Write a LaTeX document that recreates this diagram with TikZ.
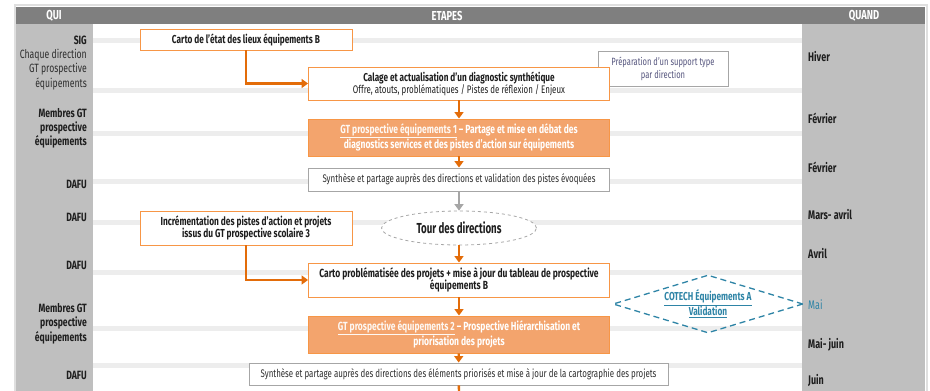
\documentclass[tikz,border=0pt]{standalone}
\usepackage{fontspec}
\setmainfont[FakeStretch=0.72]{Fira Sans}
\newfontfamily\narrowf[FakeStretch=0.67]{Fira Sans}
\usetikzlibrary{shapes.geometric,arrows.meta}
\definecolor{hdr}{HTML}{7F7F7F}
\definecolor{col}{HTML}{BFBFBF}
\definecolor{sep}{HTML}{EDEDED}
\definecolor{boxor}{HTML}{F79646}
\definecolor{fillor}{HTML}{F3A46D}
\definecolor{arror}{HTML}{E36C09}
\definecolor{gbord}{HTML}{A6A6A6}
\definecolor{txt}{HTML}{1E1E1E}
\definecolor{txt2}{HTML}{2E2E2E}
\definecolor{prep}{HTML}{55557E}
\definecolor{blu}{HTML}{2E84A6}
\tikzset{
  base/.style={inner sep=0pt, align=center, text=txt, font=\fontsize{11}{12}\selectfont},
  obox/.style={base, draw=boxor, fill=white, line width=0.9pt},
  fbox/.style={base, draw=boxor, fill=fillor, line width=0.9pt, text=white, font=\fontsize{11.8}{13.5}\selectfont\bfseries},
  gbox/.style={base, draw=gbord, fill=white, line width=0.9pt, text=txt2},
  oarr/.style={draw=arror, line width=2.4pt, -{Triangle[length=6.5pt,width=9pt]}},
  garr/.style={draw=gbord, line width=2.4pt, -{Triangle[length=6.5pt,width=9pt]}},
  sepline/.style={draw=sep, line width=5pt},
  lab/.style={inner sep=0pt, anchor=east, text=txt, font=\fontsize{12}{12}\selectfont\bfseries},
  labn/.style={lab, font=\fontsize{12}{12}\selectfont, text=txt2},
  rlab/.style={inner sep=0pt, anchor=west, text=txt, font=\fontsize{12.5}{12}\selectfont\bfseries},
  hd/.style={inner sep=0pt, text=white, font=\fontsize{13}{13}\selectfont\bfseries},
}
\begin{document}
\begin{tikzpicture}[x=1pt,y=-1pt]
\useasboundingbox (0,0) rectangle (930,391);
% frame and columns
\draw[draw=gray!25, line width=2pt] (15,5) rectangle (927,395);
\fill[hdr] (16,7) rectangle (925,24);
\fill[col] (16,24) rectangle (93,391);
\fill[col] (802,24) rectangle (925,391);
\node[hd] (hqui) at (54,16) {QUI};
\node[hd] (hetapes) at (447,16) {ETAPES};
\node[hd] (hquand) at (864,16) {QUAND};
% separators
\foreach \yy in {40,90,133,181,222,272,328,365}
  \draw[sepline] (93,\yy) -- (802,\yy);
% left labels
\node[lab] (l1) at (87,40) {SIG};
\node[labn] (l2) at (87,55) {Chaque direction};
\node[labn] (l3) at (87,69.5) {GT prospective};
\node[labn] (l4) at (87,84) {équipements};
\node[lab] (l5) at (87,113) {Membres GT};
\node[lab] (l6) at (87,128) {prospective};
\node[lab] (l7) at (87,142) {équipements};
\node[lab] (l8) at (87,184.5) {DAFU};
\node[lab] (l9) at (87,217) {DAFU};
\node[lab] (l10) at (87,265.5) {DAFU};
\node[lab] (l11) at (87,308) {Membres GT};
\node[lab] (l12) at (87,323) {prospective};
\node[lab] (l13) at (87,337.5) {équipements};
\node[lab] (l14) at (87,375.5) {DAFU};
% right labels
\node[rlab] (r1) at (808,57) {Hiver};
\node[rlab] (r2) at (808,118.5) {Février};
\node[rlab] (r3) at (808,167) {Février};
\node[rlab] (r4) at (808,214.5) {Mars- avril};
\node[rlab] (r5) at (808,254) {Avril};
\node[rlab, text=blu, font=\fontsize{12.5}{12}\selectfont] (r6) at (808,304.5) {Mai};
\node[rlab] (r7) at (808,345) {Mai- juin};
\node[rlab] (r8) at (808,380) {Juin};
% boxes
\node[gbox, text=prep, minimum width=130pt, minimum height=35pt, font=\fontsize{10.5}{13}\selectfont] (prep) at (663,68.5) {Préparation d'un support type\\par direction};
\node[obox, minimum width=212pt, minimum height=21pt, font=\fontsize{11.5}{12}\selectfont\bfseries] (b1) at (246,39.5) {Carto de l'état des lieux équipements B};
\node[obox, minimum width=301pt, minimum height=33pt] (b2) at (459,83.5) {{\fontsize{11.4}{12}\selectfont\bfseries Calage et actualisation d'un diagnostic synthétique}\\Offre, atouts, problématiques / Pistes de réflexion / Enjeux};
\node[fbox, minimum width=301pt, minimum height=37pt] (b3) at (459,137.5) {{\color{white!92!fillor}\underline{GT prospective équipements 1}} -- Partage et mise en débat des\\diagnostics services et des pistes d'action sur équipements};
\node[gbox, minimum width=301pt, minimum height=23pt] (b4) at (459,179.5) {Synthèse et partage auprès des directions et validation des pistes évoquées};
\node[base, draw=gbord, dashed, line width=0.8pt, ellipse, minimum width=155pt, minimum height=34pt, font=\narrowf\fontsize{14.5}{15}\selectfont\bfseries, fill=white] (ell) at (459,228) {Tour des directions};
\node[obox, minimum width=212pt, minimum height=34pt, font=\fontsize{11.6}{12.5}\selectfont\bfseries] (b6) at (246,228) {Incrémentation des pistes d'action et projets\\issus du GT prospective scolaire 3};
\node[obox, minimum width=301pt, minimum height=34pt, font=\fontsize{11.8}{12.5}\selectfont\bfseries] (b7) at (459,280) {Carto problématisée des projets + mise à jour du tableau de prospective\\équipements B};
\node[fbox, minimum width=301pt, minimum height=37pt] (b8) at (459,334.5) {{\color{white!92!fillor}\underline{GT prospective équipements 2}} -- Prospective Hiérarchisation et\\priorisation des projets};
\node[gbox, minimum width=419pt, minimum height=22pt] (b9) at (458.5,374) {Synthèse et partage auprès des directions des éléments priorisés et mise à jour de la cartographie des projets};
\node[base, diamond, aspect=3.3, draw=blu, dashed, dash pattern=on 6pt off 4pt, line width=1.3pt, minimum width=190pt, minimum height=58pt, text=blu, font=\fontsize{11.5}{12.5}\selectfont\bfseries] (dia) at (708,304) {\underline{COTECH Équipements A}\\\underline{Validation}};
\coordinate (endb) at (459,391);
% connectors
\draw[oarr] (b1) |- (b2);
\draw[oarr] (b2) -- (b3);
\draw[oarr] (b3) -- (b4);
\draw[garr] (b4) -- (ell);
\draw[oarr] (ell) -- (b7);
\draw[oarr] (b6) |- (b7);
\draw[oarr] (b7) -- (b8);
\draw[oarr] (b8) -- (b9);
\draw[draw=arror, line width=2.4pt] (b9) -- (endb);
\end{tikzpicture}
\end{document}
